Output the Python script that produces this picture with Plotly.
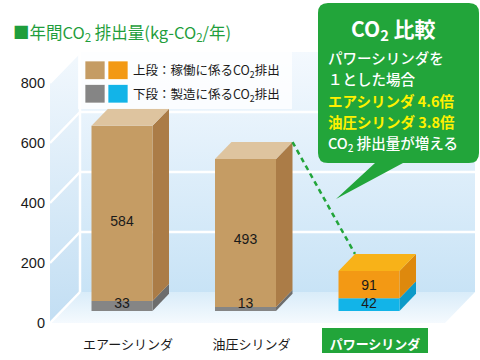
import plotly.graph_objects as go

# ---------------- data ----------------
categories = ["エアーシリンダ", "油圧シリンダ", "パワーシリンダ"]
lower_values = [33, 13, 42]      # 下段：製造に係るCO2排出
upper_values = [584, 493, 91]    # 上段：稼働に係るCO2排出
y_tick_values = [0, 200, 400, 600, 800]
y_tick_labels = ["0", "200", "400", "600", "800"]
category_labels = ["エアーシリンダ", "油圧シリンダ",
                   "<b><span style='color:white'>パワーシリンダ</span></b>"]

# ---------------- style ----------------
LOWER_FRONT = ["#858585", "#858585", "#12b4e8"]
LOWER_SIDE = ["#6d6d6d", "#6d6d6d", "#0e9ac8"]
UPPER_FRONT = ["#c59c64", "#c59c64", "#f39914"]
UPPER_SIDE = ["#ab7c47", "#ab7c47", "#de890d"]
UPPER_TOP = ["#dec49f", "#dec49f", "#f8b218"]
GREEN = "#22a53a"
TITLE_GREEN = "#1f9e3c"
YELLOW = "#fff100"
JP = "Noto Sans CJK JP"
LATIN = "Liberation Sans, Arial"

W, H = 480, 360
ML, MR, MT, MB = 50, 0, 0, 37
PLOT_W = W - ML - MR
PLOT_H = H - MT - MB
PX_PER_X = 123.5
X_ORIGIN_PX = 128
PX_PER_Y = 0.3
XR = [(ML - X_ORIGIN_PX) / PX_PER_X, (W - MR - X_ORIGIN_PX) / PX_PER_X]
YR = [0, PLOT_H / PX_PER_Y]


def dx(px):
    return px / PX_PER_X


def dy(px):
    return px / PX_PER_Y


def px2x(px):
    return XR[0] + (px - ML) / PX_PER_X


def py2y(py):
    return (MT + PLOT_H - py) / PX_PER_Y


def ppx(px):
    return (px - ML) / PLOT_W


def ppy(py):
    return (MT + PLOT_H - py) / PLOT_H


# pseudo-3D geometry
WALL_DX, WALL_DY = dx(30), dy(31)
FLOOR_L = XR[0]
FLOOR_R = px2x(445)
T0, T1 = 0.39, 0.94
BAR_W = dx(61)
BAR_SHIFT = dx(-6)
AXIS_TOP = max(y_tick_values)


def proj(x, y, t):
    return (x + t * WALL_DX, y + t * WALL_DY)


def poly(pts, color=None, gradient=None):
    xs = [p[0] for p in pts] + [pts[0][0]]
    ys = [p[1] for p in pts] + [pts[0][1]]
    kw = dict(x=xs, y=ys, mode="lines", fill="toself",
              line=dict(width=0, color="rgba(0,0,0,0)"),
              hoverinfo="skip", showlegend=False)
    if gradient is not None:
        kw["fillgradient"] = dict(type="vertical", colorscale=gradient)
        kw["fillcolor"] = gradient[0][1]
    else:
        kw["fillcolor"] = color
    return go.Scatter(**kw)


fig = go.Figure()

# walls and floor
fig.add_trace(poly([proj(FLOOR_L, 0, 0), proj(FLOOR_L, AXIS_TOP, 0),
                    proj(FLOOR_L, AXIS_TOP, 1), proj(FLOOR_L, 0, 1)],
                   gradient=[[0, "#c2def3"], [1, "#f2f8fd"]]))
fig.add_trace(poly([proj(FLOOR_L, 0, 1), proj(FLOOR_R, 0, 1),
                    proj(FLOOR_R, AXIS_TOP, 1), proj(FLOOR_L, AXIS_TOP, 1)],
                   gradient=[[0, "#c8e3f6"], [1, "#f4f9fe"]]))
fig.add_trace(poly([proj(FLOOR_L, 0, 0), proj(FLOOR_R, 0, 0),
                    proj(FLOOR_R, 0, 1), proj(FLOOR_L, 0, 1)],
                   gradient=[[0, "#f5fafe"], [1, "#d9ecf9"]]))

# grid lines (white)
gx, gy = [], []
for v in y_tick_values[1:-1]:
    a, b = proj(FLOOR_L, v, 1), proj(FLOOR_R, v, 1)
    gx += [a[0], b[0], None]
    gy += [a[1], b[1], None]
for v in y_tick_values:
    a, b = proj(FLOOR_L, v, 0), proj(FLOOR_L, v, 1)
    gx += [a[0], b[0], None]
    gy += [a[1], b[1], None]
a, b = proj(FLOOR_L, 0, 1), proj(FLOOR_L, AXIS_TOP, 1)
gx += [a[0], b[0], None]
gy += [a[1], b[1], None]
fig.add_trace(go.Scatter(x=gx, y=gy, mode="lines",
                         line=dict(color="white", width=2.5),
                         hoverinfo="skip", showlegend=False))

# bars
ddx = (T1 - T0) * WALL_DX
ddy = (T1 - T0) * WALL_DY
base = T0 * WALL_DY
tops = []
lab_x, lab_y, lab_t = [], [], []
for i in range(len(categories)):
    cx = i + BAR_SHIFT
    xl, xr = cx - BAR_W / 2, cx + BAR_W / 2
    segs = [(base, base + lower_values[i], LOWER_FRONT[i], LOWER_SIDE[i]),
            (base + lower_values[i], base + lower_values[i] + upper_values[i],
             UPPER_FRONT[i], UPPER_SIDE[i])]
    for y0, y1, cf, cs in segs:
        fig.add_trace(poly([(xr, y0), (xr + ddx, y0 + ddy),
                            (xr + ddx, y1 + ddy), (xr, y1)], color=cs))
        fig.add_trace(poly([(xl, y0), (xr, y0), (xr, y1), (xl, y1)], color=cf))
    ytop = segs[-1][1]
    fig.add_trace(poly([(xl, ytop), (xr, ytop), (xr + ddx, ytop + ddy),
                        (xl + ddx, ytop + ddy)], color=UPPER_TOP[i]))
    tops.append((xl, xr, ytop))
    lab_x += [cx, cx]
    lab_y += [base + max(lower_values[i], 40) / 2,
              base + lower_values[i] + upper_values[i] * 0.45]
    lab_t += [str(lower_values[i]), str(upper_values[i])]

fig.add_trace(go.Scatter(x=lab_x, y=lab_y, text=lab_t, mode="text",
                         textfont=dict(family=LATIN, size=14, color="#1a1a1a"),
                         hoverinfo="skip", showlegend=False))

# dashed connector: 油圧 -> パワー
(_, xr1, t1), (xl2, _, t2) = tops[1], tops[2]
fig.add_trace(go.Scatter(x=[xr1 + ddx, xl2 + ddx], y=[t1 + ddy, t2 + ddy],
                         mode="lines",
                         line=dict(color=GREEN, width=2.5, dash="5px,4px"),
                         hoverinfo="skip", showlegend=False))

shapes = []
annotations = []

# legend
shapes.append(dict(type="rect", xref="x", yref="y", layer="above",
                   x0=px2x(78), x1=px2x(292), y0=py2y(109), y1=py2y(52),
                   fillcolor="rgba(255,255,255,0.8)", line=dict(width=0)))
for row, (c1, c2, txt) in enumerate([
        (UPPER_FRONT[0], UPPER_FRONT[2], "上段：稼働に係るCO<sub>2</sub>排出"),
        (LOWER_FRONT[0], LOWER_FRONT[2], "下段：製造に係るCO<sub>2</sub>排出")]):
    ytop_px = 61 + row * 23.5
    for k, c in enumerate([c1, c2]):
        shapes.append(dict(type="rect", xref="x", yref="y", layer="above",
                           x0=px2x(85 + 23 * k), x1=px2x(105 + 23 * k),
                           y0=py2y(ytop_px + 18.5), y1=py2y(ytop_px),
                           fillcolor=c,
                           line=dict(width=1, color="rgba(255,255,255,0.7)")))
    annotations.append(dict(xref="paper", yref="paper", x=ppx(131),
                            y=ppy(ytop_px + 9.5), xanchor="left",
                            yanchor="middle", showarrow=False, text=txt,
                            font=dict(family=JP, size=12.5, color="#1a1a1a")))

# callout balloon
bx0, bx1, by0, by1, r = 318, 479, 3, 163, 10
pts_cmd = [("M", bx0 + r, by0), ("L", bx1 - r, by0),
           ("Q", bx1, by0, bx1, by0 + r), ("L", bx1, by1 - r),
           ("Q", bx1, by1, bx1 - r, by1), ("L", 403, by1), ("L", 336, 199),
           ("L", 375, by1), ("L", bx0 + r, by1),
           ("Q", bx0, by1, bx0, by1 - r), ("L", bx0, by0 + r),
           ("Q", bx0, by0, bx0 + r, by0)]
path = ""
for cmd in pts_cmd:
    vals = cmd[1:]
    coords = []
    for j in range(0, len(vals), 2):
        coords.append(f"{px2x(vals[j]):.5f},{py2y(vals[j + 1]):.3f}")
    path += cmd[0] + " " + " ".join(coords) + " "
path += "Z"
shapes.append(dict(type="path", xref="x", yref="y", layer="above", path=path,
                   fillcolor=GREEN, line=dict(width=0)))

annotations.append(dict(xref="paper", yref="paper", x=ppx(393), y=ppy(29),
                        xanchor="center", yanchor="middle", showarrow=False,
                        text="<b>CO<sub>2</sub> 比較</b>",
                        font=dict(family=JP, size=21, color="white")))
callout_lines = [("パワーシリンダを", 57, "white", False),
                 ("１とした場合", 78, "white", False),
                 ("エアシリンダ 4.6倍", 100, YELLOW, True),
                 ("油圧シリンダ 3.8倍", 121, YELLOW, True),
                 ("CO<sub>2</sub> 排出量が増える", 143, "white", False)]
for txt, py, col, bold in callout_lines:
    annotations.append(dict(xref="paper", yref="paper", x=ppx(326), y=ppy(py),
                            xanchor="left", yanchor="middle", showarrow=False,
                            text=f"<b>{txt}</b>" if bold else txt,
                            font=dict(family=JP, size=14.5, color=col,
                                      weight=700 if bold else 500)))

# green box behind the パワーシリンダ tick label
shapes.append(dict(type="rect", xref="paper", yref="paper", layer="below",
                   x0=ppx(322), x1=ppx(428), y0=ppy(353), y1=ppy(328),
                   fillcolor=GREEN, line=dict(width=0)))

# title
annotations.append(dict(xref="paper", yref="paper", x=ppx(11), y=ppy(33),
                        xanchor="left", yanchor="middle", showarrow=False,
                        text="■年間CO<sub>2</sub> 排出量(kg-CO<sub>2</sub>/年)",
                        font=dict(family=JP, size=16.5, color=TITLE_GREEN)))

fig.update_layout(
    width=W, height=H,
    margin=dict(l=ML, r=MR, t=MT, b=MB, pad=0),
    paper_bgcolor="white", plot_bgcolor="rgba(0,0,0,0)",
    showlegend=False,
    shapes=shapes, annotations=annotations,
    xaxis=dict(range=XR, tickvals=list(range(len(categories))),
               ticktext=category_labels, showgrid=False, zeroline=False,
               showline=False, ticks="", ticklabelstandoff=12,
               tickfont=dict(family=JP, size=13, color="#1a1a1a"),
               fixedrange=True),
    yaxis=dict(range=YR, tickvals=y_tick_values, ticktext=y_tick_labels,
               showgrid=False, zeroline=False, showline=False, ticks="",
               ticklabelstandoff=4,
               tickfont=dict(family=LATIN, size=14.5, color="#1a1a1a"),
               fixedrange=True),
)

fig.write_html("out.html",
               config={"displayModeBar": False, "staticPlot": True},
               post_script="document.body.style.margin='0';"
                           "document.body.style.overflow='hidden';")
